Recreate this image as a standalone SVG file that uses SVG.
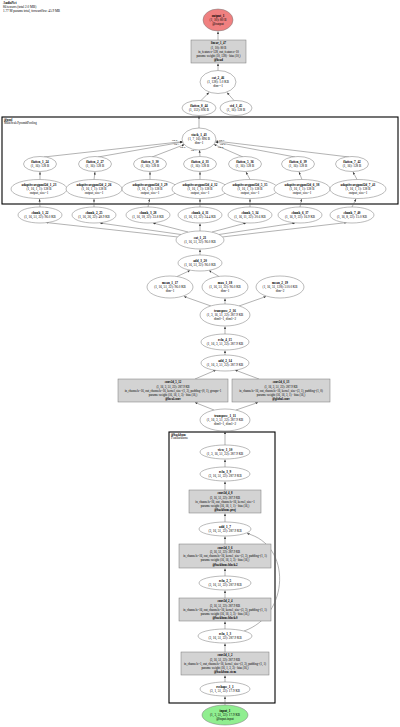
<svg xmlns="http://www.w3.org/2000/svg" width="400" height="727" viewBox="0 0 400 727">
<style>
text{font-family:"Liberation Serif","Times New Roman",serif;font-size:3.3px;fill:#000}
.m{text-anchor:middle}
.b{font-weight:bold}
.s{font-size:3px}
.l{font-size:2.6px}
.n{fill:#fff;stroke:#777;stroke-width:0.5}
.r{fill:#d3d3d3;stroke:#777;stroke-width:0.5}
.cl{fill:none;stroke:#000;stroke-width:1.1}
.e{fill:none;stroke:#666;stroke-width:0.5;marker-end:url(#a)}
</style>
<defs>
<marker id="a" viewBox="0 0 10 10" refX="10" refY="5" markerWidth="2.6" markerHeight="2.6" markerUnits="userSpaceOnUse" orient="auto"><path d="M0,1 L10,5 L0,9 z" fill="#333"/></marker>
</defs>
<rect width="400" height="727" fill="#fff"/>
<g id="title">
<text x="3" y="3.5" class="b">AudioNet</text>
<text x="3" y="7.5">86 tensors (total 2.0 MB)</text>
<text x="3" y="11.5">1.77 M params total, forward/bw: 45.9 MB</text>
</g>
<g id="clusters">
<rect class="cl" x="2" y="117" width="396" height="87"/>
<text x="4" y="120.5" class="b s">@pool</text>
<text x="4" y="124" class="s">MultiScalePyramidPooling</text>
<rect class="cl" x="169" y="432" width="106" height="271"/>
<text x="171" y="435.5" class="b s">@backbone</text>
<text x="171" y="439" class="s">FeatBackbone</text>
</g>
<g id="edges">
<path class="e" d="M218,40 L218,31.5"/>
<path class="e" d="M218,70.5 L218,63.5"/>
<path class="e" d="M201,100.5 L209,92.5"/>
<path class="e" d="M234,100.5 L227,92.5"/>
<path class="e" d="M199,128 L199,116"/>
<path class="e" d="M44,157 L182.5,141.6"/>
<path class="e" d="M98,157 L182.8,142"/>
<path class="e" d="M152,157 L184.5,144.5"/>
<path class="e" d="M200,156.5 L199.5,150.2"/>
<path class="e" d="M243,157 L214,144.4"/>
<path class="e" d="M295,157 L215.4,142"/>
<path class="e" d="M349,157 L215.8,141"/>
<path class="e" d="M40,179.5 L40,172"/>
<path class="e" d="M94,179.5 L95,172"/>
<path class="e" d="M150,179.5 L150,172"/>
<path class="e" d="M200,179.5 L200,172"/>
<path class="e" d="M250,179.5 L246,172"/>
<path class="e" d="M302,179.5 L299,172"/>
<path class="e" d="M357,179.5 L353,172"/>
<path class="e" d="M40,207 L39.5,199"/>
<path class="e" d="M94,207 L94,199"/>
<path class="e" d="M148,207 L149.5,199"/>
<path class="e" d="M200,207 L200,199"/>
<path class="e" d="M250,207 L250,199"/>
<path class="e" d="M300,207 L301.5,199"/>
<path class="e" d="M352,207 L356,199"/>
<path class="e" d="M178,237 L46,222.5"/>
<path class="e" d="M181,234.5 L100,223"/>
<path class="e" d="M188,232 L153,223"/>
<path class="e" d="M200,231 L200,223.5"/>
<path class="e" d="M212,232 L246,223"/>
<path class="e" d="M219,234.5 L295,223"/>
<path class="e" d="M222,237 L347,222.5"/>
<path class="e" d="M200,255 L200,249.5"/>
<path class="e" d="M177,276.5 L190,270.5"/>
<path class="e" d="M219,276.5 L209,270.5"/>
<path class="e" d="M211,306 L184,296.5"/>
<path class="e" d="M225,304 L225,298.5"/>
<path class="e" d="M239,306 L266,296.5"/>
<path class="e" d="M225,334 L225,326.5"/>
<path class="e" d="M225,355 L225,350.5"/>
<path class="e" d="M195,379 L216,370"/>
<path class="e" d="M259,379 L235,370"/>
<path class="e" d="M214,410 L195,402.5"/>
<path class="e" d="M236,410 L258,402.5"/>
<path class="e" d="M225,445 L225,431.5"/>
<path class="e" d="M225,467 L225,459.5"/>
<path class="e" d="M225,490 L225,481.5"/>
<path class="e" d="M225,522 L225,513.5"/>
<path class="e" d="M225,544 L225,536.5"/>
<path class="e" d="M225,576 L225,568.5"/>
<path class="e" d="M225,598 L225,590.5"/>
<path class="e" d="M225,629 L225,621.5"/>
<path class="e" d="M225,652 L225,643.5"/>
<path class="e" d="M225,682 L225,675.5"/>
<path class="e" d="M225,705 L225,696.5"/>
<path class="e" d="M244,631 C290,615 292,545 247,533.5"/>
<text x="172" y="141" class="l">arg 0</text>
<text x="174" y="144.5" class="l">arg 1</text>
<text x="180" y="148" class="l">arg 2</text>
<text x="191" y="151" class="l">arg 3</text>
<text x="219" y="141" class="l">arg 6</text>
<text x="220" y="144.5" class="l">arg 5</text>
<text x="218" y="148" class="l">arg 4</text>
</g>
<g id="output_1"><ellipse cx="218" cy="20" rx="15" ry="11" fill="#f08080" stroke="#777" stroke-width="0.5"/>
<text x="218" y="17.2" class="m b">output_1</text><text x="218" y="21.2" class="m">(1, 10): 80 B</text><text x="218" y="25.2" class="m">@output</text></g>
<g id="linear_1_47"><rect class="r" x="191" y="40" width="55" height="23"/>
<text x="218.5" y="44.3" class="m b s">linear_1_47</text><text x="218.5" y="48.5" class="m s">(1, 10): 80 B</text><text x="218.5" y="52.7" class="m s">in_features=128, out_features=10</text><text x="218.5" y="56.9" class="m s">params: weight (10, 128) · bias (10,)</text><text x="218.5" y="61.1" class="m b s">@head</text></g>
<g id="cat_2_46"><ellipse class="n" cx="218" cy="82" rx="18" ry="11.5"/>
<text x="218" y="79.2" class="m b">cat_2_46</text><text x="218" y="83.2" class="m">(1, 128): 1.0 KB</text><text x="218" y="87.2" class="m">dim=-1</text></g>
<g id="flatten_8_44"><ellipse class="n" cx="199" cy="108" rx="17" ry="7.5"/>
<text x="199" y="107" class="m b">flatten_8_44</text><text x="199" y="111" class="m">(1, 112): 896 B</text></g>
<g id="std_1_45"><ellipse class="n" cx="236" cy="108" rx="16" ry="7.5"/>
<text x="236" y="107" class="m b">std_1_45</text><text x="236" y="111" class="m">(1, 16): 128 B</text></g>
<g id="stack_1_43"><ellipse class="n" cx="199" cy="139" rx="17" ry="11"/>
<text x="199" y="136.2" class="m b">stack_1_43</text><text x="199" y="140.2" class="m">(1, 7, 16): 896 B</text><text x="199" y="144.2" class="m">dim=1</text></g>
<g id="flatten_1_24"><ellipse class="n" cx="40" cy="164" rx="16.5" ry="7.5"/><text x="40" y="163" class="m b">flatten_1_24</text><text x="40" y="167" class="m">(1, 16): 128 B</text></g>
<g id="flatten_2_27"><ellipse class="n" cx="95" cy="164" rx="16.5" ry="7.5"/><text x="95" y="163" class="m b">flatten_2_27</text><text x="95" y="167" class="m">(1, 16): 128 B</text></g>
<g id="flatten_3_30"><ellipse class="n" cx="150" cy="164" rx="16.5" ry="7.5"/><text x="150" y="163" class="m b">flatten_3_30</text><text x="150" y="167" class="m">(1, 16): 128 B</text></g>
<g id="flatten_4_33"><ellipse class="n" cx="200" cy="164" rx="16.5" ry="7.5"/><text x="200" y="163" class="m b">flatten_4_33</text><text x="200" y="167" class="m">(1, 16): 128 B</text></g>
<g id="flatten_5_36"><ellipse class="n" cx="245" cy="164" rx="16.5" ry="7.5"/><text x="245" y="163" class="m b">flatten_5_36</text><text x="245" y="167" class="m">(1, 16): 128 B</text></g>
<g id="flatten_6_39"><ellipse class="n" cx="298" cy="164" rx="16.5" ry="7.5"/><text x="298" y="163" class="m b">flatten_6_39</text><text x="298" y="167" class="m">(1, 16): 128 B</text></g>
<g id="flatten_7_42"><ellipse class="n" cx="352" cy="164" rx="16.5" ry="7.5"/><text x="352" y="163" class="m b">flatten_7_42</text><text x="352" y="167" class="m">(1, 16): 128 B</text></g>
<g id="adaptiveavgpool2d_1_23"><ellipse class="n" cx="39" cy="189" rx="28" ry="9.5"/><text x="39" y="186.4" class="m b">adaptiveavgpool2d_1_23</text><text x="39" y="190.2" class="m">(1, 16, 1, 1): 128 B</text><text x="39" y="194" class="m">output_size=1</text></g>
<g id="adaptiveavgpool2d_2_26"><ellipse class="n" cx="94" cy="189" rx="28" ry="9.5"/><text x="94" y="186.4" class="m b">adaptiveavgpool2d_2_26</text><text x="94" y="190.2" class="m">(1, 16, 1, 1): 128 B</text><text x="94" y="194" class="m">output_size=1</text></g>
<g id="adaptiveavgpool2d_3_29"><ellipse class="n" cx="150" cy="189" rx="28" ry="9.5"/><text x="150" y="186.4" class="m b">adaptiveavgpool2d_3_29</text><text x="150" y="190.2" class="m">(1, 16, 1, 1): 128 B</text><text x="150" y="194" class="m">output_size=1</text></g>
<g id="adaptiveavgpool2d_4_32"><ellipse class="n" cx="200" cy="189" rx="28" ry="9.5"/><text x="200" y="186.4" class="m b">adaptiveavgpool2d_4_32</text><text x="200" y="190.2" class="m">(1, 16, 1, 1): 128 B</text><text x="200" y="194" class="m">output_size=1</text></g>
<g id="adaptiveavgpool2d_5_35"><ellipse class="n" cx="250" cy="189" rx="28" ry="9.5"/><text x="250" y="186.4" class="m b">adaptiveavgpool2d_5_35</text><text x="250" y="190.2" class="m">(1, 16, 1, 1): 128 B</text><text x="250" y="194" class="m">output_size=1</text></g>
<g id="adaptiveavgpool2d_6_38"><ellipse class="n" cx="302" cy="189" rx="28" ry="9.5"/><text x="302" y="186.4" class="m b">adaptiveavgpool2d_6_38</text><text x="302" y="190.2" class="m">(1, 16, 1, 1): 128 B</text><text x="302" y="194" class="m">output_size=1</text></g>
<g id="adaptiveavgpool2d_7_41"><ellipse class="n" cx="358" cy="189" rx="28" ry="9.5"/><text x="358" y="186.4" class="m b">adaptiveavgpool2d_7_41</text><text x="358" y="190.2" class="m">(1, 16, 1, 1): 128 B</text><text x="358" y="194" class="m">output_size=1</text></g>
<g id="chunk_1_22"><ellipse class="n" cx="40" cy="215" rx="22" ry="8"/><text x="40" y="214" class="m b">chunk_1_22</text><text x="40" y="218" class="m">(1, 16, 51, 22): 96.0 KB</text></g>
<g id="chunk_2_25"><ellipse class="n" cx="94" cy="215" rx="22" ry="8"/><text x="94" y="214" class="m b">chunk_2_25</text><text x="94" y="218" class="m">(1, 16, 26, 22): 48.9 KB</text></g>
<g id="chunk_3_28"><ellipse class="n" cx="148" cy="215" rx="22" ry="8"/><text x="148" y="214" class="m b">chunk_3_28</text><text x="148" y="218" class="m">(1, 16, 18, 22): 33.8 KB</text></g>
<g id="chunk_4_31"><ellipse class="n" cx="200" cy="215" rx="22" ry="8"/><text x="200" y="214" class="m b">chunk_4_31</text><text x="200" y="218" class="m">(1, 16, 13, 22): 24.4 KB</text></g>
<g id="chunk_5_34"><ellipse class="n" cx="250" cy="215" rx="22" ry="8"/><text x="250" y="214" class="m b">chunk_5_34</text><text x="250" y="218" class="m">(1, 16, 11, 22): 20.6 KB</text></g>
<g id="chunk_6_37"><ellipse class="n" cx="300" cy="215" rx="22" ry="8"/><text x="300" y="214" class="m b">chunk_6_37</text><text x="300" y="218" class="m">(1, 16, 9, 22): 16.9 KB</text></g>
<g id="chunk_7_40"><ellipse class="n" cx="352" cy="215" rx="22" ry="8"/><text x="352" y="214" class="m b">chunk_7_40</text><text x="352" y="218" class="m">(1, 16, 8, 22): 15.0 KB</text></g>
<g id="cat_1_21"><ellipse class="n" cx="200" cy="240" rx="24" ry="9"/><text x="200" y="239" class="m b">cat_1_21</text><text x="200" y="243" class="m">(1, 16, 51, 22): 96.0 KB</text></g>
<g id="add_3_20"><ellipse class="n" cx="200" cy="263" rx="22" ry="8"/><text x="200" y="262" class="m b">add_3_20</text><text x="200" y="266" class="m">(1, 16, 51, 22): 96.0 KB</text></g>
<g id="mean_1_17"><ellipse class="n" cx="170" cy="287" rx="23" ry="11"/><text x="170" y="284.2" class="m b">mean_1_17</text><text x="170" y="288.2" class="m">(1, 16, 51, 22): 96.0 KB</text><text x="170" y="292.2" class="m">dim=1</text></g>
<g id="max_1_18"><ellipse class="n" cx="225" cy="287" rx="23" ry="11"/><text x="225" y="284.2" class="m b">max_1_18</text><text x="225" y="288.2" class="m">(1, 16, 51, 22): 96.0 KB</text><text x="225" y="292.2" class="m">dim=1</text></g>
<g id="mean_2_19"><ellipse class="n" cx="280" cy="287" rx="24" ry="11"/><text x="280" y="284.2" class="m b">mean_2_19</text><text x="280" y="288.2" class="m">(1, 16, 51, 128): 510.0 KB</text><text x="280" y="292.2" class="m">dim=2</text></g>
<g id="transpose_2_16"><ellipse class="n" cx="225" cy="315" rx="25" ry="11"/><text x="225" y="312.2" class="m b">transpose_2_16</text><text x="225" y="316.2" class="m">(1, 3, 16, 51, 22): 287.9 KB</text><text x="225" y="320.2" class="m">dim0=1, dim1=2</text></g>
<g id="relu_4_15"><ellipse class="n" cx="225" cy="342" rx="24" ry="8"/><text x="225" y="341" class="m b">relu_4_15</text><text x="225" y="345" class="m">(1, 16, 3, 51, 22): 287.9 KB</text></g>
<g id="add_2_14"><ellipse class="n" cx="225" cy="363" rx="24" ry="8"/><text x="225" y="362" class="m b">add_2_14</text><text x="225" y="366" class="m">(1, 16, 3, 51, 22): 287.9 KB</text></g>
<g id="conv2d_5_12"><rect class="r" x="118" y="379" width="110" height="23"/>
<text x="173" y="383.3" class="m b s">conv2d_5_12</text><text x="173" y="387.5" class="m s">(1, 16, 3, 51, 22): 287.9 KB</text><text x="173" y="391.7" class="m s">in_channels=16, out_channels=16, kernel_size=(1, 3), padding=(0, 1), groups=1</text><text x="173" y="395.9" class="m s">params: weight (16, 16, 1, 3) · bias (16,)</text><text x="173" y="400.1" class="m b s">@local.conv</text></g>
<g id="conv2d_6_13"><rect class="r" x="232" y="379" width="98" height="23"/>
<text x="281" y="383.3" class="m b s">conv2d_6_13</text><text x="281" y="387.5" class="m s">(1, 16, 3, 51, 22): 287.9 KB</text><text x="281" y="391.7" class="m s">in_channels=16, out_channels=16, kernel_size=(3, 1), padding=(1, 0)</text><text x="281" y="395.9" class="m s">params: weight (16, 16, 3, 1) · bias (16,)</text><text x="281" y="400.1" class="m b s">@global.conv</text></g>
<g id="transpose_1_11"><ellipse class="n" cx="225" cy="420" rx="25" ry="11"/><text x="225" y="417.2" class="m b">transpose_1_11</text><text x="225" y="421.2" class="m">(1, 16, 3, 51, 22): 287.9 KB</text><text x="225" y="425.2" class="m">dim0=1, dim1=2</text></g>
<g id="view_1_10"><ellipse class="n" cx="225" cy="452" rx="25" ry="7"/><text x="225" y="451" class="m b">view_1_10</text><text x="225" y="455" class="m">(1, 3, 16, 51, 22): 287.9 KB</text></g>
<g id="relu_3_9"><ellipse class="n" cx="225" cy="474" rx="25" ry="7"/><text x="225" y="473" class="m b">relu_3_9</text><text x="225" y="477" class="m">(3, 16, 51, 22): 287.9 KB</text></g>
<g id="conv2d_4_8"><rect class="r" x="189" y="490" width="72" height="23"/>
<text x="225" y="494.3" class="m b s">conv2d_4_8</text><text x="225" y="498.5" class="m s">(3, 16, 51, 22): 287.9 KB</text><text x="225" y="502.7" class="m s">in_channels=16, out_channels=16, kernel_size=1</text><text x="225" y="506.9" class="m s">params: weight (16, 16, 1, 1) · bias (16,)</text><text x="225" y="511.1" class="m b s">@backbone.proj</text></g>
<g id="add_1_7"><ellipse class="n" cx="225" cy="529" rx="26" ry="7"/><text x="225" y="528" class="m b">add_1_7</text><text x="225" y="532" class="m">(3, 16, 51, 22): 287.9 KB</text></g>
<g id="conv2d_3_6"><rect class="r" x="179" y="544" width="92" height="24"/>
<text x="225" y="548.5" class="m b s">conv2d_3_6</text><text x="225" y="552.8" class="m s">(3, 16, 51, 22): 287.9 KB</text><text x="225" y="557.1" class="m s">in_channels=16, out_channels=16, kernel_size=(3, 3), padding=(1, 1)</text><text x="225" y="561.4" class="m s">params: weight (16, 16, 3, 3) · bias (16,)</text><text x="225" y="565.7" class="m b s">@backbone.block.2</text></g>
<g id="relu_2_5"><ellipse class="n" cx="225" cy="583" rx="26" ry="7"/><text x="225" y="582" class="m b">relu_2_5</text><text x="225" y="586" class="m">(3, 16, 51, 22): 287.9 KB</text></g>
<g id="conv2d_2_4"><rect class="r" x="179" y="598" width="92" height="23"/>
<text x="225" y="602.3" class="m b s">conv2d_2_4</text><text x="225" y="606.5" class="m s">(3, 16, 51, 22): 287.9 KB</text><text x="225" y="610.7" class="m s">in_channels=16, out_channels=16, kernel_size=(3, 3), padding=(1, 1)</text><text x="225" y="614.9" class="m s">params: weight (16, 16, 3, 3) · bias (16,)</text><text x="225" y="619.1" class="m b s">@backbone.block.0</text></g>
<g id="relu_1_3"><ellipse class="n" cx="225" cy="636" rx="27" ry="7"/><text x="225" y="635" class="m b">relu_1_3</text><text x="225" y="639" class="m">(3, 16, 51, 22): 287.9 KB</text></g>
<g id="conv2d_1_2"><rect class="r" x="181" y="652" width="88" height="23"/>
<text x="225" y="656.3" class="m b s">conv2d_1_2</text><text x="225" y="660.5" class="m s">(3, 16, 51, 22): 287.9 KB</text><text x="225" y="664.7" class="m s">in_channels=1, out_channels=16, kernel_size=(3, 3), padding=(1, 1)</text><text x="225" y="668.9" class="m s">params: weight (16, 1, 3, 3) · bias (16,)</text><text x="225" y="673.1" class="m b s">@backbone.stem</text></g>
<g id="reshape_1_1"><ellipse class="n" cx="225" cy="689" rx="25" ry="7"/><text x="225" y="688" class="m b">reshape_1_1</text><text x="225" y="692" class="m">(3, 1, 51, 22): 17.9 KB</text></g>
<g id="input_1"><ellipse cx="225" cy="715" rx="23" ry="10" fill="#90ee90" stroke="#777" stroke-width="0.5"/>
<text x="225" y="712.2" class="m b">input_1</text><text x="225" y="716.2" class="m">(1, 3, 51, 22): 17.9 KB</text><text x="225" y="720.2" class="m">@input.input</text></g>
</svg>
